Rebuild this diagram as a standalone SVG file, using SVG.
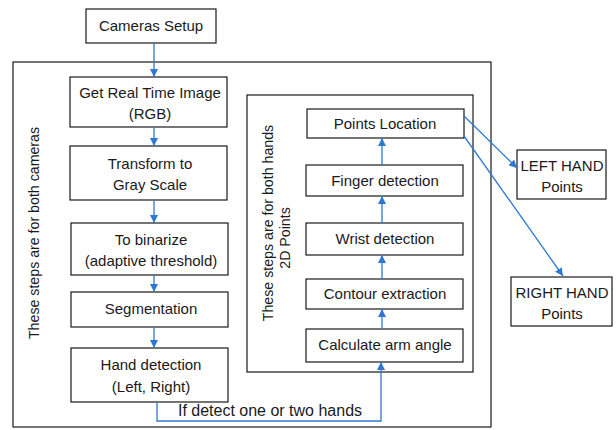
<svg xmlns="http://www.w3.org/2000/svg" width="616" height="430" viewBox="0 0 616 430">
<defs>
<style>
.box{fill:#fff;stroke:#1a1a1a;stroke-width:1.2}
.frame{fill:none;stroke:#1a1a1a;stroke-width:1.2}
.t{font-family:"Liberation Sans",Arial,sans-serif;font-size:15px;fill:#1a1a1a;text-anchor:middle}
.r{font-size:14.2px}
.c{fill:none;stroke:#2E78D2;stroke-width:1.3}
</style>
<marker id="ah" viewBox="0 0 10 10" refX="10" refY="5" markerWidth="8" markerHeight="8" markerUnits="userSpaceOnUse" orient="auto">
<path d="M0,0 L10,5 L0,10 z" fill="#2E78D2"/>
</marker>
</defs>
<rect width="616" height="430" fill="#fff"/>
<g id="outer-frame">
<rect class="frame" x="13" y="62" width="478" height="365"/>
<text class="t r" transform="translate(39,233) rotate(-90)">These steps are for both cameras</text>
</g>
<g id="inner-frame">
<rect class="frame" x="247" y="95" width="226" height="277"/>
<text class="t r" transform="translate(273,223) rotate(-90)">These steps are for both hands</text>
<text class="t r" transform="translate(290,238) rotate(-90)">2D Points</text>
</g>
<g id="cameras-setup"><rect class="box" x="86" y="9" width="130" height="34"/><text class="t" x="151" y="31">Cameras Setup</text></g>
<g id="get-image"><rect class="box" x="70" y="77" width="157" height="50"/><text class="t" x="150" y="98">Get Real Time Image</text><text class="t" x="150" y="119">(RGB)</text></g>
<g id="gray"><rect class="box" x="70" y="146" width="157" height="54"/><text class="t" x="150" y="169">Transform to</text><text class="t" x="150" y="190">Gray Scale</text></g>
<g id="binarize"><rect class="box" x="71" y="223" width="157" height="52"/><text class="t" x="151" y="245">To binarize</text><text class="t" x="151" y="266">(adaptive threshold)</text></g>
<g id="segmentation"><rect class="box" x="71" y="292" width="157" height="35"/><text class="t" x="151" y="314">Segmentation</text></g>
<g id="hand-detection"><rect class="box" x="71" y="348" width="157" height="54"/><text class="t" x="151" y="370">Hand detection</text><text class="t" x="151" y="392">(Left, Right)</text></g>
<g id="points-location"><rect class="box" x="307" y="109" width="157" height="29"/><text class="t" x="385" y="129">Points Location</text></g>
<g id="finger"><rect class="box" x="306" y="165" width="157" height="31"/><text class="t" x="385" y="186">Finger detection</text></g>
<g id="wrist"><rect class="box" x="306" y="223" width="157" height="32"/><text class="t" x="385" y="244">Wrist detection</text></g>
<g id="contour"><rect class="box" x="306" y="279" width="157" height="30"/><text class="t" x="385" y="299">Contour extraction</text></g>
<g id="arm-angle"><rect class="box" x="306" y="329" width="157" height="33"/><text class="t" x="385" y="350">Calculate arm angle</text></g>
<g id="left-hand"><rect class="box" x="517" y="150" width="89" height="49"/><text class="t" x="562" y="171">LEFT HAND</text><text class="t" x="562" y="192">Points</text></g>
<g id="right-hand"><rect class="box" x="511" y="277" width="101" height="49"/><text class="t" x="562" y="298">RIGHT HAND</text><text class="t" x="562" y="319">Points</text></g>
<g id="connectors">
<line class="c" x1="154" y1="43" x2="154" y2="77" marker-end="url(#ah)"/>
<line class="c" x1="154" y1="127" x2="154" y2="146" marker-end="url(#ah)"/>
<line class="c" x1="154" y1="200" x2="154" y2="223" marker-end="url(#ah)"/>
<line class="c" x1="154" y1="275" x2="154" y2="292" marker-end="url(#ah)"/>
<line class="c" x1="154" y1="327" x2="154" y2="348" marker-end="url(#ah)"/>
<polyline class="c" points="157,402 157,421 381,421 381,362" marker-end="url(#ah)"/>
<line class="c" x1="382" y1="329" x2="382" y2="309" marker-end="url(#ah)"/>
<line class="c" x1="382" y1="279" x2="382" y2="255" marker-end="url(#ah)"/>
<line class="c" x1="382" y1="223" x2="382" y2="196" marker-end="url(#ah)"/>
<line class="c" x1="382" y1="165" x2="382" y2="138" marker-end="url(#ah)"/>
<line class="c" x1="464" y1="116" x2="517" y2="168" marker-end="url(#ah)"/>
<line class="c" x1="464" y1="136" x2="563" y2="276" marker-end="url(#ah)"/>
<text class="t" x="270" y="416" style="font-size:16px">If detect one or two hands</text>
</g>
</svg>
